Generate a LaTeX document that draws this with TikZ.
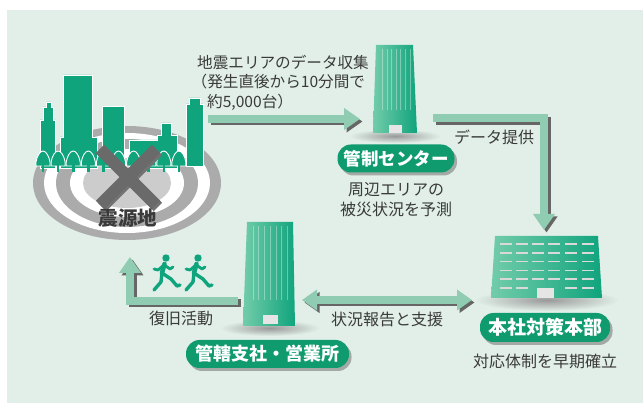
\documentclass[tikz,border=0pt]{standalone}
\usepackage{fontspec}
\setmainfont{Noto Sans CJK JP}
\usepackage[x11names, svgnames]{xcolor}
\usepackage{tikz}
\usetikzlibrary{arrows.meta, calc, shadows}

\definecolor{mint}{HTML}{E1EFE8}
\definecolor{leaf}{HTML}{10A47D}
\definecolor{leaflite}{HTML}{72CCAA}
\definecolor{flowgreen}{HTML}{8FCCB1}
\definecolor{pillgreen}{HTML}{0F9B6E}
\definecolor{ink}{HTML}{3A3A3A}
\definecolor{ringgray}{HTML}{ABABAB}
\definecolor{crossgray}{HTML}{6A6A6A}

\tikzset{
	flow/.style={line width=8pt, draw=flowgreen, line join=miter},
	flowshade/.style={line width=8pt, draw=black!60, line join=miter,
		transform canvas={shift={(2.5pt,-2.5pt)}}},
	flowhead/.style={-{Triangle[width=21pt,length=16pt]}},
	flowboth/.style={{Triangle[width=20pt,length=15pt]}-{Triangle[width=20pt,length=15pt]}},
	note/.style={text=ink, inner sep=0pt, font=\fontsize{16}{20}\selectfont},
	pill/.style={fill=pillgreen, text=white, inner xsep=0pt, inner ysep=0pt,
		font=\bfseries\fontsize{18}{18}\selectfont, rounded corners=13.5pt,
		minimum height=28pt,
		drop shadow={shadow xshift=2.5pt, shadow yshift=-3pt, fill=black!60}},
	groundshade/.style={inner color=black!40, outer color=mint},
	winline/.style={draw=gray!30, line width=1.7pt},
	stripe/.style={draw=white, opacity=0.35, line width=0.8pt},
	runner/.pic={
		\fill (0,0) circle (3.7);
		\draw[line width=4.6pt, line cap=round] (-1.5,6) -- (-4,15);
		\draw[line width=2.8pt, line cap=round, line join=round] (-2,7) -- (-8,12) -- (-12,11);
		\draw[line width=2.8pt, line cap=round, line join=round] (-1,7.5) -- (4,11) -- (7,9);
		\draw[line width=3.4pt, line cap=round, line join=round] (-4,15) -- (-5,24) -- (-12,32);
		\draw[line width=3.4pt, line cap=round, line join=round] (-4,15) -- (5,21) -- (11,28) -- (14,27);
	}
}

\begin{document}
\begin{tikzpicture}[x=1pt, y=-1pt]

	\useasboundingbox (0,0) rectangle (643,403);
	\fill[mint] (7,10) rectangle (643,403);

	% arrow ends
	\coordinate (quakeout) at (208,119);
	\coordinate (centerin) at (360,119);
	\coordinate (centerout) at (433,118.5);
	\coordinate (hqin) at (544,230);
	\coordinate (branchout) at (302,300);
	\coordinate (hqleft) at (472,300);
	\coordinate (branchback) at (238,301);
	\coordinate (quakein) at (130,257);

	% epicentre rings
	\fill[ringgray] (127,183) ellipse [x radius=94, y radius=57];
	\fill[white] (127,183) ellipse [x radius=83, y radius=50];
	\fill[ringgray] (127,183) ellipse [x radius=71, y radius=44];
	\fill[white] (127,183) ellipse [x radius=57, y radius=34];
	\fill[gray!40] (127,183) ellipse [x radius=44, y radius=25];

	% city
	\filldraw[fill=leaf, draw=white, line width=0.7pt]
		(40,168) -- (40,120) -- (43,120) -- (43,107) -- (46,107) -- (46,102) -- (51,102)
		-- (51,107) -- (53,107) -- (53,120) -- (55,120) -- (55,168) -- cycle;
	\filldraw[fill=leaf, draw=white, line width=0.7pt]
		(60,168) -- (60,137) -- (63,137) -- (63,75) -- (92,75) -- (92,137) -- (97,137) -- (97,168) -- cycle;
	\filldraw[fill=leaf, draw=white, line width=0.7pt]
		(102,168) -- (102,106) -- (124,106) -- (124,168) -- cycle;
	\filldraw[fill=leaf, draw=white, line width=0.7pt]
		(129,168) -- (129,140) -- (157,140) -- (157,135) -- (161,135) -- (161,123) -- (171,123)
		-- (171,135) -- (177,135) -- (177,168) -- cycle;
	\filldraw[fill=leaf, draw=white, line width=0.7pt]
		(186,166) -- (186,104) -- (189,104) -- (189,98) -- (200,98) -- (200,104) -- (203,104) -- (203,166) -- cycle;
	\foreach \i in {0,...,9}{
		\pgfmathsetmacro\cx{43+15.1*\i}
		\filldraw[fill=leaf, draw=white, line width=0.9pt]
			(\cx-7,166) -- (\cx-7,162) .. controls (\cx-6,156) and (\cx-3,151) .. (\cx,151)
			.. controls (\cx+3,151) and (\cx+6,156) .. (\cx+7,162) -- (\cx+7,166) -- cycle;
		\fill[leaf] (\cx-1.3,165) rectangle (\cx+1.3,172);
	}

	% cross
	\draw[line width=12pt, black!55, transform canvas={shift={(2pt,-2pt)}}]
		(100,149) -- (156,205) (156,149) -- (100,205);
	\draw[line width=12pt, crossgray] (100,149) -- (156,205) (156,149) -- (100,205);
	\node[text=ink, inner sep=0pt, font=\bfseries\fontsize{19.5}{20}\selectfont] (quake) at (128,218) {震源地};

	% control centre
	\shade[groundshade] (395,136) ellipse [x radius=46, y radius=7];
	\shade[left color=leaflite, right color=leaf] (376,45) -- (413,45) -- (417,133) -- (373,133) -- cycle;
	\foreach \sx in {382,387,391,396,400,405,410}
		\draw[stripe] (\sx,49) -- (\sx,110);
	\fill[gray!20] (389,125) rectangle (402,133);

	% branch office
	\shade[groundshade] (270,328) ellipse [x radius=50, y radius=8];
	\shade[left color=leaflite, right color=leaf] (247,222) -- (293,222) -- (295,326) -- (243,326) -- cycle;
	\foreach \sx in {253,258,264,270,276,281,287}
		\draw[stripe] (\sx,226) -- (\sx,300);
	\fill[gray!20] (263,315) rectangle (278,324);

	% head office
	\shade[groundshade] (547,300) ellipse [x radius=72, y radius=11];
	\shade[left color=leaflite, right color=leaf] (495,236) -- (598,236) -- (602,298) -- (491,298) -- cycle;
	\foreach \row in {0,...,4}
		\foreach \wx in {500,516,532,548,565,582}
			\draw[winline] (\wx,244+8.8*\row) -- (\wx+12,244+8.8*\row);
	\foreach \wx in {500,516,565,582}
		\draw[winline] (\wx,288) -- (\wx+12,288);
	\fill[gray!20] (537,288) rectangle (554,298);

	% arrows
	\draw[flowshade, flowhead] (quakeout) -- (centerin);
	\draw[flow, flowhead] (quakeout) -- (centerin);
	\draw[flowshade, flowhead] (centerout) -| (hqin);
	\draw[flow, flowhead] (centerout) -| (hqin);
	\draw[flowshade, flowboth] (branchout) -- (hqleft);
	\draw[flow, flowboth] (branchout) -- (hqleft);
	\draw[flowshade, flowhead] (branchback) -| (quakein);
	\draw[flow, flowhead] (branchback) -| (quakein);

	\pic[leaf] at (166,258) {runner};
	\pic[leaf] at (198,258) {runner};

	% labels
	\node[pill, minimum width=117pt, font=\bfseries\fontsize{17.5}{18}\selectfont] (centerlabel) at (396,158.5) {管制センター};
	\node[pill, minimum width=130pt, minimum height=29pt, font=\bfseries\fontsize{19}{19}\selectfont] (hqlabel) at (545,327.5) {本社対策本部};
	\node[pill, minimum width=163pt] (branchlabel) at (267.5,354) {管轄支社・営業所};

	\node[note, anchor=west, font=\fontsize{15.6}{20}\selectfont] (collect1) at (197,62) {地震エリアのデータ収集};
	\node[note, anchor=west, font=\fontsize{15.6}{20}\selectfont] (collect2) at (191.5,82) {（発生直後から10分間で};
	\node[note, anchor=west, font=\fontsize{15.6}{20}\selectfont] (collect3) at (207,102) {約5,000台）};
	\node[note, align=center] (predict) at (396,200) {周辺エリアの\\被災状況を予測};
	\node[note] (provide) at (494,137) {データ提供};
	\node[note] (restore) at (181,318) {復旧活動};
	\node[note] (report) at (387,319) {状況報告と支援};
	\node[note] (establish) at (545,361) {対応体制を早期確立};

\end{tikzpicture}
\end{document}
